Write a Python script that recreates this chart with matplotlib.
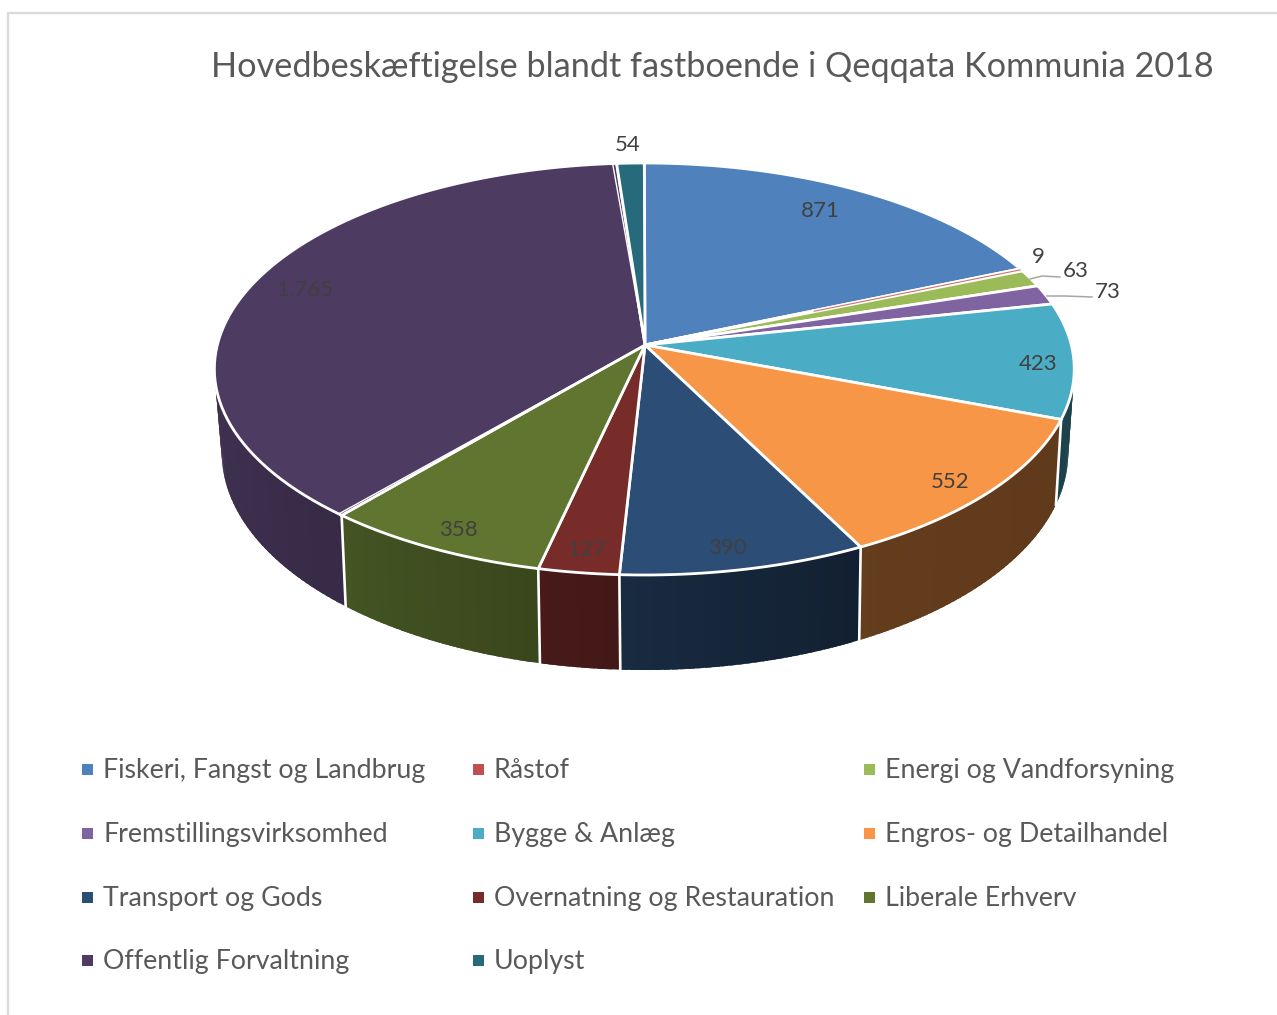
import numpy as np
import matplotlib
matplotlib.use("Agg")
import matplotlib.pyplot as plt
from matplotlib.colors import to_rgb
from matplotlib.patches import Polygon

# Data
categories = ["Fiskeri, Fangst og Landbrug", "Råstof", "Energi og Vandforsyning",
              "Fremstillingsvirksomhed", "Bygge & Anlæg", "Engros- og Detailhandel",
              "Transport og Gods", "Overnatning og Restauration", "Liberale Erhverv",
              "Offentlig Forvaltning", "Uoplyst"]
values = [871, 9, 63, 73, 423, 552, 390, 127, 358, 1765, 54]
colors = ["#4f81bd", "#c0504d", "#9bbb59", "#8064a2", "#4bacc6", "#f79646",
          "#2c4d75", "#772c2a", "#5f7530", "#4d3b62", "#276a7c"]
title = "Hovedbeskæftigelse blandt fastboende i Qeqqata Kommunia 2018"

# where the data labels sit (pixels)
label_pos = [(820, 211), (1038, 257), (1076, 271), (1108, 292), (1038, 364), (950, 482),
             (727, 548), (587, 550), (458, 530), (305, 290), (628, 145)]

plt.rcParams['font.family'] = ['Lato', 'DejaVu Sans']

fig = plt.figure(figsize=(12.77, 10.15), dpi=100)
ax = fig.add_axes([0, 0, 1, 1])
ax.set_xlim(0, 1277)
ax.set_ylim(1015, 0)
ax.axis('off')


# perspective view of the disc, angle in degrees clockwise from 12 o'clock
def top_xy(theta):
    t = np.radians(theta)
    u, v = np.sin(t), np.cos(t)
    d = 1 + 0.1165 * v
    return 644.3 + 427 * u / d, 345 - 203.2 * v / d


def bottom_xy(theta):
    t = np.radians(theta)
    u, v = np.sin(t), np.cos(t)
    d = 1 + 0.123 * v
    return 645 + 420 * u / d, 426 - 214 * v / d


def wall_shade(theta):
    return np.interp(theta, [100, 150, 183, 220, 250, 300], [0.38, 0.40, 0.56, 0.72, 0.8, 0.85])


# frame of the chart area
ax.plot([8, 8, 1277], [1015, 13, 13], color="#d9d9d9", lw=1.6, zorder=1)

edges = np.cumsum([0] + values) / sum(values) * 360

# side walls, split in small strips for the shading
# each strip runs a bit into the next one so no seams show
for i in range(len(values)):
    a0, a1 = edges[i], edges[i + 1]
    if a1 < 80 or a0 > 290:
        continue
    rgb = np.array(to_rgb(colors[i]))
    lo, hi = max(a0, 80), min(a1, 290)
    for s0 in np.arange(lo, hi, 1.0):
        s1 = min(s0 + 1.8, hi)
        arc = np.linspace(s0, s1, 4)
        xt, yt = top_xy(arc)
        xb, yb = bottom_xy(arc[::-1])
        c = rgb * wall_shade(s0 + 0.5)
        ax.add_patch(Polygon(np.column_stack([np.r_[xt, xb], np.r_[yt, yb]]), closed=True,
                             facecolor=c, edgecolor='none', zorder=2))

# white lines between the walls
for a in edges:
    if 100 < a < 290:
        xt, yt = top_xy(a)
        xb, yb = bottom_xy(a)
        ax.plot([xt, xb], [yt, yb], color="white", lw=1.9, zorder=3)

# top of the pie
for i in range(len(values)):
    arc = np.linspace(edges[i], edges[i + 1], 80)
    xa, ya = top_xy(arc)
    ax.add_patch(Polygon(np.column_stack([np.r_[645, xa], np.r_[345, ya]]), closed=True,
                         facecolor=colors[i], edgecolor="white", lw=2.0,
                         joinstyle='miter', zorder=4))

# the smallest slice would vanish under the white edges
mid = (edges[1] + edges[2]) / 2
xm, ym = top_xy(mid)
ax.plot([645 + (xm - 645) * 0.45, xm - 1], [345 + (ym - 345) * 0.45, ym], color=colors[1],
        lw=0.8, alpha=0.8, zorder=5)

# the big slice has a second thin line along both sides
for a in [edges[9] + 0.5, edges[10] - 0.6]:
    xa, ya = top_xy(a)
    ax.plot([645, xa], [345, ya], color="white", lw=1.0, zorder=5)

# leader lines
ax.plot([1030, 1042, 1060], [279, 276, 277], color="#a6a6a6", lw=1.1, zorder=5)
ax.plot([1047, 1065, 1092], [296, 296, 297], color="#a6a6a6", lw=1.1, zorder=5)

# data labels
for v, (x, y) in zip(values, label_pos):
    txt = f"{v:,}".replace(",", ".")
    ax.text(x, y, txt, ha='center', va='center', fontsize=16, color="#404040", zorder=6)

ax.text(712, 67, title, ha='center', va='center', fontsize=24.65, color="#595959")

# legend, three equal columns
leg_x = [82, 473, 864]
leg_y = [769, 833, 897, 960]
for i, name in enumerate(categories):
    x = leg_x[i % 3]
    y = leg_y[i // 3]
    ax.add_patch(Polygon([(x, y - 5.5), (x + 11, y - 5.5), (x + 11, y + 5.5), (x, y + 5.5)],
                         closed=True, facecolor=colors[i], edgecolor='none', zorder=3))
    ax.text(x + 21, y + 1.5, name, ha='left', va='center', fontsize=19.3, color="#595959")

fig.savefig("out.png", dpi=100, facecolor="white")
